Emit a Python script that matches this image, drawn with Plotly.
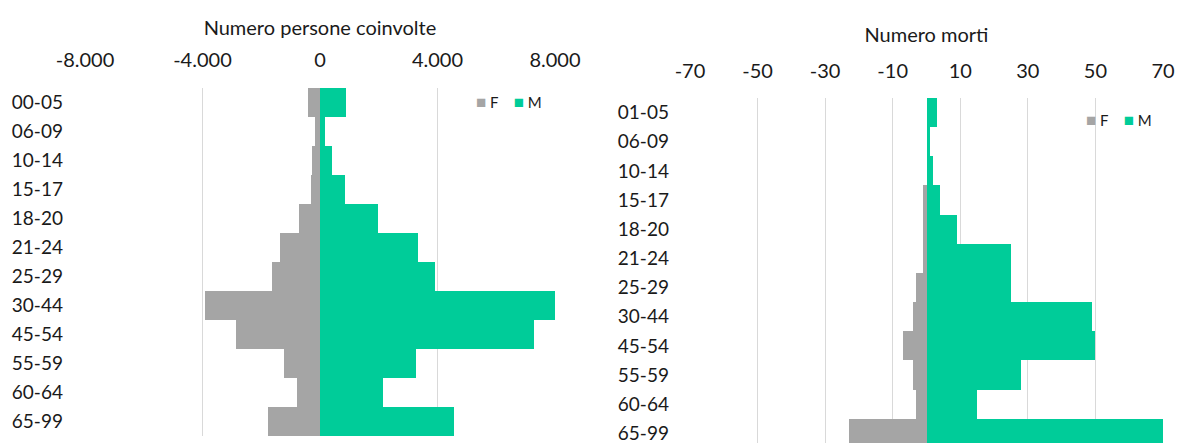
import plotly.graph_objects as go

# Age groups
AGES_LEFT = ["00-05", "06-09", "10-14", "15-17", "18-20", "21-24",
             "25-29", "30-44", "45-54", "55-59", "60-64", "65-99"]
AGES_RIGHT = ["01-05", "06-09", "10-14", "15-17", "18-20", "21-24",
              "25-29", "30-44", "45-54", "55-59", "60-64", "65-99"]

# Persons involved (F shown as negative values)
INVOLVED_F = [-420, -170, -260, -310, -720, -1370,
              -1650, -3910, -2850, -1220, -770, -1760]
INVOLVED_M = [880, 170, 420, 850, 1970, 3320,
              3900, 8000, 7270, 3260, 2150, 4550]

# Deaths (F shown as negative values)
DEATHS_F = [0, 0, 0, -1, -1, -1, -3, -4, -7, -4, -3, -23]
DEATHS_M = [3, 1, 2, 4, 9, 25, 25, 49, 50, 28, 15, 70]

# Tick labels
TICKS_LEFT = [-8000, -4000, 0, 4000, 8000]
TICKTEXT_LEFT = ["-8.000", "-4.000", "0", "4.000", "8.000"]
TICKS_RIGHT = [-70, -50, -30, -10, 10, 30, 50, 70]
TICKTEXT_RIGHT = ["-70", "-50", "-30", "-10", "10", "30", "50", "70"]

GREY = "#A5A5A5"
GREEN = "#00CC99"
GRID = "#D9D9D9"
TEXT = "#1a1a1a"
FONT = "Lato, Carlito, sans-serif"

fig = go.Figure()

# Left pyramid
fig.add_trace(go.Bar(y=AGES_LEFT, x=INVOLVED_F, name="F", orientation="h",
                     marker_color=GREY, marker_line_width=0,
                     xaxis="x", yaxis="y"))
fig.add_trace(go.Bar(y=AGES_LEFT, x=INVOLVED_M, name="M", orientation="h",
                     marker_color=GREEN, marker_line_width=0,
                     xaxis="x", yaxis="y"))

# Right pyramid
fig.add_trace(go.Bar(y=AGES_RIGHT, x=DEATHS_F, name="F", orientation="h",
                     marker_color=GREY, marker_line_width=0,
                     xaxis="x2", yaxis="y2"))
fig.add_trace(go.Bar(y=AGES_RIGHT, x=DEATHS_M, name="M", orientation="h",
                     marker_color=GREEN, marker_line_width=0,
                     xaxis="x2", yaxis="y2"))

xaxis_common = dict(
    side="top",
    showgrid=True,
    gridcolor=GRID,
    gridwidth=1,
    zeroline=False,
    showline=False,
    ticks="",
    automargin=False,
    tickfont=dict(size=20, color=TEXT),
    title_font=dict(size=20, color=TEXT),
)
yaxis_common = dict(
    type="category",
    showgrid=False,
    zeroline=False,
    showline=False,
    ticks="",
    automargin=False,
    tickfont=dict(size=19, color=TEXT),
)

# Legend-like labels for each panel
sq = "<span style='font-size:17px;color:{}'>■</span>"
legend_text = f"{sq.format(GREY)} F    {sq.format(GREEN)} M"

fig.update_layout(
    width=1177,
    height=443,
    margin=dict(l=0, r=0, t=0, b=0),
    paper_bgcolor="white",
    plot_bgcolor="white",
    barmode="relative",
    bargap=0,
    showlegend=False,
    font=dict(family=FONT, color=TEXT),
    xaxis=dict(
        xaxis_common,
        domain=[0.0722, 0.4715],
        range=[-8000, 8000],
        tickvals=TICKS_LEFT,
        ticktext=TICKTEXT_LEFT,
        anchor="y",
        ticklabelstandoff=16,
        title=dict(text="Numero persone coinvolte", standoff=5),
    ),
    yaxis=dict(
        yaxis_common,
        domain=[0.0158, 0.8014],
        range=[11.5, -0.5],
        ticklabelstandoff=21,
        anchor="x",
    ),
    xaxis2=dict(
        xaxis_common,
        domain=[0.5862, 0.9881],
        range=[-70, 70],
        tickvals=TICKS_RIGHT,
        ticktext=TICKTEXT_RIGHT,
        anchor="y2",
        ticklabelstandoff=15,
        title=dict(text="Numero morti", standoff=9),
    ),
    yaxis2=dict(
        yaxis_common,
        domain=[0.0, 0.7788],
        range=[11.33, -0.5],
        ticklabelstandoff=20,
        anchor="x2",
    ),
    annotations=[
        dict(text=legend_text, xref="paper", yref="paper",
             x=0.4025, y=0.77, xanchor="left", yanchor="middle",
             showarrow=False, font=dict(size=15, color=TEXT)),
        dict(text=legend_text, xref="paper", yref="paper",
             x=0.9207, y=0.731, xanchor="left", yanchor="middle",
             showarrow=False, font=dict(size=15, color=TEXT)),
    ],
)

fig.write_html(
    "out.html",
    config={"displayModeBar": False},
    post_script="document.body.style.margin='0';",
)
